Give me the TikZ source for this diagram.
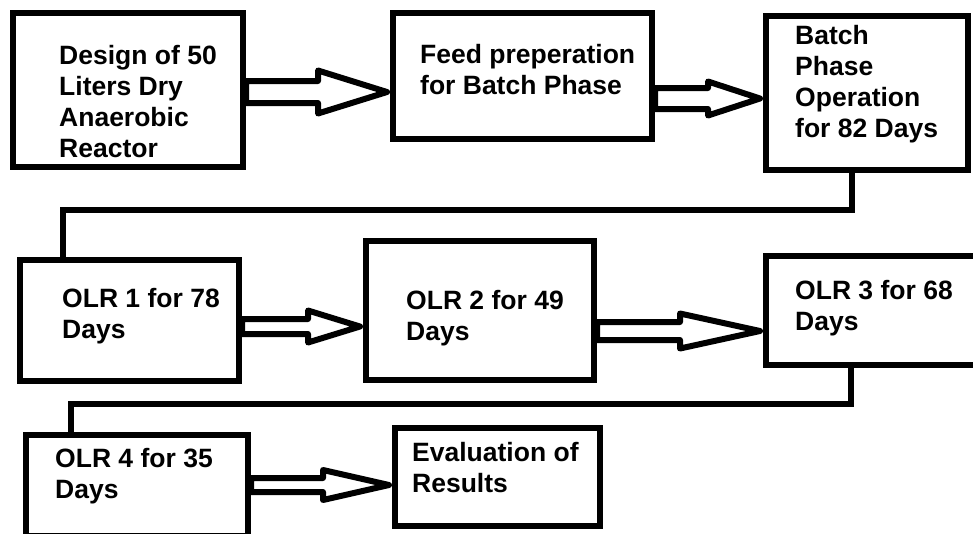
\documentclass[tikz,border=0pt]{standalone}
\usepackage{fontspec}
\setmainfont{Liberation Sans}
\usetikzlibrary{calc}

\tikzset{
  box/.style={draw, rectangle, line width=6pt, inner sep=0pt},
  % texts are placed by the baseline of their last line
  caption/.style={anchor=base west, inner sep=0pt, align=left,
    font=\bfseries\fontsize{26.5}{30.7}\selectfont},
  conn/.style={line width=6pt, line join=miter},
  arrowline/.style={line width=6pt, line join=round}
}

% Hollow block arrow from the east side of #1 to the west side of #2.
% #3: centre y, #4: half height of the shaft, #5: x of the head's back, #6: half height of the head
\newcommand\blockarrow[6]{%
  \draw[arrowline] let \p1=(#1.east), \p2=(#2.west), \p3=(0,#3), \p4=(#5,0) in
    (\x1,\y3+#4) -- (\x4,\y3+#4) -- (\x4,\y3+#6) -- (\x2-3,\y3)
    -- (\x4,\y3-#6) -- (\x4,\y3-#4) -- (\x1,\y3-#4) -- cycle;}

\begin{document}
\begin{tikzpicture}[x=1pt,y=-1pt]
  \useasboundingbox (0,0) rectangle (973,533);
  \fill[white] (0,0) rectangle (973,533);
  \clip (0,0) rectangle (973,533);

  % process boxes
  \node[box, minimum width=230, minimum height=154] (b1) at (128,90) {};
  \node[box, minimum width=259, minimum height=126] (b2) at (522.5,76) {};
  \node[box, minimum width=202, minimum height=154] (b3) at (867,93) {};
  \node[box, minimum width=219, minimum height=121] (b4) at (129.5,320.5) {};
  \node[box, minimum width=228, minimum height=139] (b5) at (480,310.5) {};
  \node[box, minimum width=224, minimum height=109] (b6) at (878,310.5) {};
  \node[box, minimum width=222, minimum height=101] (b7) at (137,485.5) {};
  \node[box, minimum width=205, minimum height=98]  (b8) at (497.5,477) {};

  % box texts
  \node[caption] (t1) at (59,157) {Design of 50\\Liters Dry\\Anaerobic\\Reactor};
  \node[caption] (t2) at (420,94) {Feed preperation\\for Batch Phase};
  \node[caption] (t3) at (795,137) {Batch\\Phase\\Operation\\for 82 Days};
  \node[caption] (t4) at (62,338) {OLR 1 for 78\\Days};
  \node[caption] (t5) at (406,340) {OLR 2 for 49\\Days};
  \node[caption] (t6) at (795,330) {OLR 3 for 68\\Days};
  \node[caption] (t7) at (55,498) {OLR 4 for 35\\Days};
  \node[caption] (t8) at (412,492) {Evaluation of\\Results};

  % block arrows
  \blockarrow{b1}{b2}{92}{11}{318}{21.5}
  \blockarrow{b2}{b3}{98.5}{10.5}{708}{17}
  \blockarrow{b4}{b5}{326.5}{7.5}{308}{16}
  \blockarrow{b5}{b6}{331}{9}{680}{17.5}
  \blockarrow{b7}{b8}{485}{7}{323}{15}

  % row-to-row connectors
  \coordinate (k1a) at (851.5,210);
  \coordinate (k1b) at (63,210);
  \draw[conn] (b3.south -| k1a) -- (k1a) -- (k1b) -- (k1b |- b4.north);
  \coordinate (k2a) at (850.5,403.5);
  \coordinate (k2b) at (71,403.5);
  \draw[conn] (b6.south -| k2a) -- (k2a) -- (k2b) -- (k2b |- b7.north);
\end{tikzpicture}
\end{document}
